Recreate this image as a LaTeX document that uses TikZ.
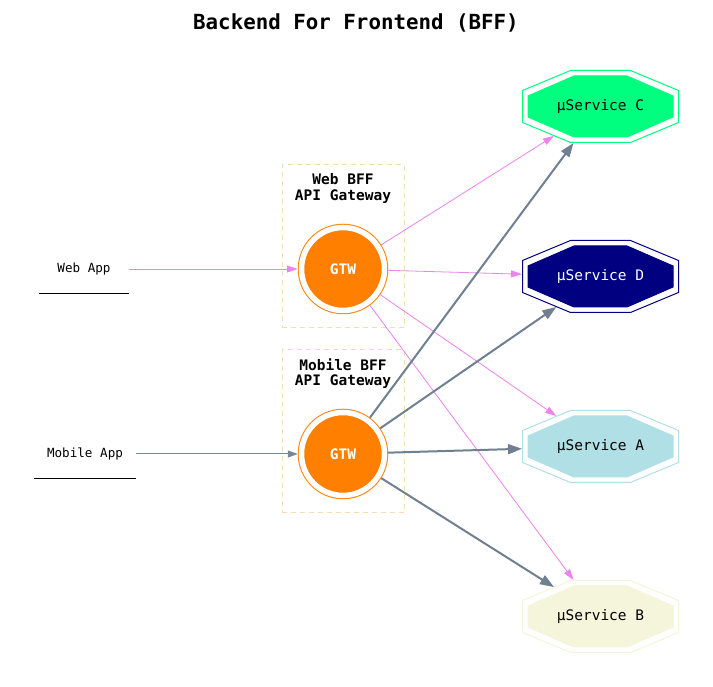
\documentclass[tikz,border=0pt]{standalone}
\usepackage{fontspec}
\setmonofont{DejaVu Sans Mono}
\usetikzlibrary{arrows.meta, positioning, backgrounds}

\definecolor{gtworange}{HTML}{FF7F00}
\definecolor{wheat}{HTML}{F5DEB3}
\definecolor{springgreen}{HTML}{00FF7F}
\definecolor{navyblue}{HTML}{000080}
\definecolor{powderblue}{HTML}{B0E0E6}
\definecolor{beige}{HTML}{F5F5DC}
\definecolor{webviolet}{HTML}{EE82EE}
\definecolor{slategray}{HTML}{708090}
\definecolor{lightslate}{HTML}{778899}

\begin{document}
\begin{tikzpicture}[x=1pt, y=1pt,
                    gtw/.style={circle, draw=gtworange, fill=gtworange, double=white,
                                double distance=5.5pt, line width=1pt, minimum size=83pt,
                                inner sep=0pt, outer sep=3.75pt, text=white,
                                font=\ttfamily\bfseries\fontsize{14.5}{15}\selectfont},
                    svc/.style={rectangle, minimum width=157pt, minimum height=73pt,
                                inner sep=0pt, outer sep=0pt,
                                font=\ttfamily\fontsize{14.5}{15}\selectfont},
                    client/.style={rectangle, minimum height=48pt, inner sep=0pt,
                                   font=\ttfamily\fontsize{12.6}{14}\selectfont},
                    cluster/.style={rectangle, draw=wheat, dash pattern=on 5pt off 4pt,
                                    line width=1pt, minimum width=122pt, minimum height=163pt},
                    clusterlabel/.style={inner sep=0pt, align=center,
                                         font=\ttfamily\bfseries\fontsize{14.5}{15.5}\selectfont},
                    webedge/.style={webviolet, line width=0.8pt, -{Triangle[length=11pt, width=7pt]}},
                    appedge/.style={lightslate, line width=1pt, -{Triangle[length=10pt, width=7pt]}},
                    gwedge/.style={slategray, line width=2pt, -{Triangle[length=14pt, width=10pt]}}]

\useasboundingbox (0,0) rectangle (713,687);

% Title
\node (title) at (356,664) [font=\ttfamily\bfseries\fontsize{20.8}{24}\selectfont] {Backend For Frontend (BFF)};

% Clusters
\node (webbff) at (343,440.5) [cluster] {};
\node (mobbff) at (343,255.5) [cluster] {};
\node (weblabel) [clusterlabel, below=9pt of webbff.north] {Web BFF\\API Gateway};
\node (moblabel) [clusterlabel, below=9pt of mobbff.north] {Mobile BFF\\API Gateway};

% Clients
\node (webapp) at (84,418) [client, minimum width=89pt] {Web App};
\node (mobapp) at (85,233) [client, minimum width=102pt] {Mobile App};
\draw[line width=1pt] (webapp.south west) -- (webapp.south east);
\draw[line width=1pt] (mobapp.south west) -- (mobapp.south east);

% Gateways
\node (webgtw) at (343,418) [gtw] {GTW};
\node (mobgtw) [gtw, below of=webgtw, node distance=185pt] {GTW};

% Services
\node (svcC) at (600.5,580.5) [svc] {µService C};
\node (svcD) [svc, text=white, below of=svcC, node distance=170pt] {µService D};
\node (svcA) [svc, below of=svcD, node distance=170pt] {µService A};
\node (svcB) [svc, below of=svcA, node distance=170pt] {µService B};

% Double octagons behind the service labels
\begin{scope}[on background layer]
  \fill[white] (0,0) rectangle (713,687);
  \foreach \svc/\col in {svcC/springgreen, svcD/navyblue, svcA/powderblue, svcB/beige} {
    \begin{scope}[shift={(\svc.center)}, line width=1pt]
      \draw[\col] (-30,36) -- (30,36) -- (78,16) -- (78,-16) -- (30,-36)
        -- (-30,-36) -- (-78,-16) -- (-78,16) -- cycle;
      \filldraw[\col] (-26.5,30.5) -- (26.5,30.5) -- (72.5,10.5) -- (72.5,-10.5)
        -- (26.5,-30.5) -- (-26.5,-30.5) -- (-72.5,-10.5) -- (-72.5,10.5) -- cycle;
    \end{scope}
  }
\end{scope}

% Edges (negative shorten: reach the cut corner of the octagon)
\draw[webedge] (webapp) -- (webgtw);
\draw[appedge] (mobapp) -- (mobgtw);
\foreach \svc/\cut in {svcC/-13.3, svcD/0, svcA/-10.6, svcB/0}
  \draw[webedge, shorten >=\cut pt] (webgtw) -- (\svc);
\foreach \svc/\cut in {svcC/0, svcD/-10.6, svcA/0, svcB/-13.3}
  \draw[gwedge, shorten >=\cut pt] (mobgtw) -- (\svc);

\end{tikzpicture}
\end{document}
